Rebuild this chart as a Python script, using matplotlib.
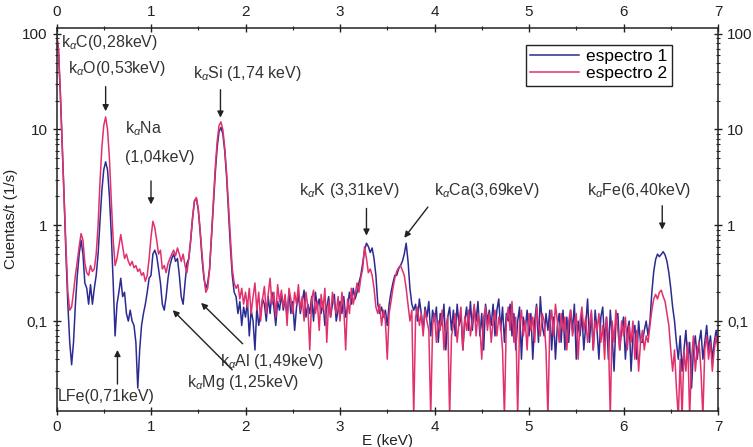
import numpy as np
import matplotlib
matplotlib.use('Agg')
import matplotlib.pyplot as plt
from matplotlib.ticker import FixedLocator, FixedFormatter, LogLocator, NullFormatter

plt.rcParams['font.family'] = ['Liberation Sans', 'DejaVu Sans']
plt.rcParams['mathtext.fontset'] = 'custom'
plt.rcParams['mathtext.rm'] = 'Liberation Sans'
plt.rcParams['mathtext.it'] = 'Liberation Sans:italic'

# channel width (keV); spectra sampled every E_STEP from 0 to 7 keV
E_STEP = 0.02

# espectro 1 (counts/s), one row per 0.2 keV
espectro_1 = [
    100, 70, 25, 7, 2, 0.5, 0.15, 0.06, 0.035, 0.06,
    0.15, 0.3, 0.5, 0.7, 0.5, 0.25, 0.22, 0.15, 0.24, 0.15,
    0.22, 0.3, 0.5, 1.1, 2.3, 3.8, 4.6, 3.8, 2.0, 0.8,
    0.25, 0.07, 0.15, 0.2, 0.28, 0.18, 0.2, 0.12, 0.1, 0.13,
    0.1, 0.09, 0.06, 0.02, 0.05, 0.09, 0.12, 0.15, 0.2, 0.28,
    0.3, 0.5, 0.55, 0.48, 0.35, 0.25, 0.15, 0.13, 0.18, 0.28,
    0.38, 0.45, 0.5, 0.42, 0.45, 0.3, 0.18, 0.15, 0.25, 0.4,
    0.45, 0.7, 1.2, 1.8, 1.9, 1.45, 0.85, 0.45, 0.28, 0.22,
    0.25, 0.35, 0.75, 1.6, 3.5, 6.5, 9.5, 10.5, 9, 6,
    3.2, 1.4, 0.6, 0.3, 0.2, 0.18, 0.12, 0.16, 0.09, 0.14,
    0.11, 0.16, 0.07, 0.13, 0.1, 0.05, 0.14, 0.09, 0.12, 0.17,
    0.15, 0.1, 0.18, 0.12, 0.2, 0.14, 0.09, 0.16, 0.13, 0.19,
    0.13, 0.17, 0.11, 0.2, 0.12, 0.16, 0.08, 0.14, 0.19, 0.12,
    0.16, 0.21, 0.11, 0.15, 0.12, 0.18, 0.1, 0.2, 0.14, 0.17,
    0.12, 0.16, 0.09, 0.14, 0.18, 0.11, 0.15, 0.19, 0.1, 0.13,
    0.16, 0.12, 0.18, 0.11, 0.14, 0.2, 0.15, 0.22, 0.17, 0.2,
    0.25, 0.3, 0.4, 0.55, 0.65, 0.6, 0.52, 0.58, 0.45, 0.3,
    0.15, 0.12, 0.14, 0.11, 0.13, 0.09, 0.15, 0.2, 0.25, 0.3,
    0.3, 0.35, 0.38, 0.42, 0.5, 0.65, 0.42, 0.22, 0.15, 0.13,
    0.15, 0.1, 0.17, 0.12, 0.08, 0.14, 0.11, 0.16, 0.07, 0.13,
    0.1, 0.14, 0.06, 0.12, 0.09, 0.15, 0.05, 0.11, 0.14, 0.08,
    0.13, 0.07, 0.15, 0.09, 0.12, 0.05, 0.1, 0.14, 0.08, 0.16,
    0.08, 0.14, 0.1, 0.16, 0.07, 0.12, 0.05, 0.15, 0.1, 0.13,
    0.09, 0.15, 0.07, 0.13, 0.17, 0.08, 0.14, 0.06, 0.12, 0.1,
    0.15, 0.07, 0.12, 0.05, 0.1, 0.14, 0.04, 0.11, 0.08, 0.13,
    0.07, 0.12, 0.04, 0.1, 0.15, 0.06, 0.18, 0.09, 0.07, 0.12,
    0.08, 0.13, 0.05, 0.11, 0.04, 0.09, 0.12, 0.06, 0.13, 0.05,
    0.11, 0.06, 0.13, 0.08, 0.15, 0.04, 0.1, 0.07, 0.12, 0.05,
    0.09, 0.17, 0.06, 0.12, 0.05, 0.13, 0.08, 0.04, 0.11, 0.14,
    0.06, 0.11, 0.04, 0.13, 0.07, 0.03, 0.1, 0.12, 0.05, 0.08,
    0.11, 0.04, 0.08, 0.1, 0.03, 0.07, 0.09, 0.04, 0.1, 0.06,
    0.06, 0.08, 0.1, 0.07, 0.1, 0.2, 0.33, 0.44, 0.5, 0.47,
    0.5, 0.53, 0.49, 0.42, 0.32, 0.22, 0.14, 0.1, 0.06, 0.04,
    0.07, 0.03, 0.05, 0.08, 0.04, 0.06, 0.02, 0.05, 0.07, 0.04,
    0.06, 0.08, 0.04, 0.06, 0.09, 0.05, 0.07, 0.04, 0.06, 0.08,
    0.06,
]

# espectro 2 (counts/s)
espectro_2 = [
    100, 70, 25, 7, 2, 0.6, 0.2, 0.13, 0.14, 0.2,
    0.3, 0.42, 0.6, 0.82, 0.7, 0.4, 0.32, 0.3, 0.38, 0.33,
    0.35, 0.5, 1.0, 2.8, 6.5, 11, 13.5, 10, 5, 1.8,
    0.7, 0.38, 0.45, 0.6, 0.8, 0.6, 0.45, 0.5, 0.42, 0.38,
    0.42, 0.36, 0.38, 0.33, 0.35, 0.3, 0.32, 0.26, 0.3, 0.45,
    0.75, 1.1, 0.95, 0.7, 0.5, 0.55, 0.35, 0.38, 0.32, 0.4,
    0.45, 0.5, 0.55, 0.48, 0.58, 0.5, 0.42, 0.5, 0.38, 0.32,
    0.45, 0.7, 1.2, 1.8, 1.95, 1.5, 0.9, 0.5, 0.3, 0.2,
    0.22, 0.35, 0.8, 1.8, 4, 7.5, 11, 12, 10, 6.5,
    3.5, 1.6, 0.7, 0.35, 0.25, 0.22, 0.24, 0.17, 0.22, 0.15,
    0.2, 0.14, 0.22, 0.12, 0.18, 0.25, 0.13, 0.2, 0.1, 0.17,
    0.23, 0.12, 0.19, 0.28, 0.15, 0.2, 0.11, 0.24, 0.16, 0.21,
    0.14, 0.19, 0.09, 0.22, 0.17, 0.12, 0.2, 0.15, 0.24, 0.13,
    0.18, 0.1, 0.2, 0.14, 0.05, 0.17, 0.21, 0.12, 0.16, 0.08,
    0.19, 0.13, 0.22, 0.06, 0.16, 0.11, 0.2, 0.15, 0.12, 0.18,
    0.1, 0.2, 0.14, 0.05, 0.17, 0.12, 0.22, 0.15, 0.19, 0.25,
    0.2, 0.28, 0.35, 0.6, 0.45, 0.32, 0.35, 0.3, 0.22, 0.14,
    0.12, 0.15, 0.09, 0.13, 0.1, 0.04, 0.12, 0.16, 0.22, 0.28,
    0.33, 0.36, 0.38, 0.34, 0.3, 0.22, 0.15, 0.1, 0.13, 0.01,
    0.11, 0.14, 0.09, 0.12, 0.07, 0.13, 0.1, 0.08, 0.01, 0.09,
    0.12, 0.06, 0.1, 0.08, 0.13, 0.05, 0.09, 0.11, 0.01, 0.07,
    0.09, 0.12, 0.06, 0.1, 0.14, 0.05, 0.11, 0.08, 0.13, 0.07,
    0.1, 0.15, 0.07, 0.12, 0.09, 0.04, 0.11, 0.14, 0.08, 0.12,
    0.06, 0.1, 0.13, 0.07, 0.11, 0.09, 0.05, 0.01, 0.1, 0.14,
    0.08, 0.16, 0.06, 0.11, 0.01, 0.09, 0.13, 0.07, 0.1, 0.05,
    0.12, 0.08, 0.11, 0.06, 0.14, 0.09, 0.07, 0.12, 0.1, 0.05,
    0.01, 0.09, 0.13, 0.07, 0.15, 0.1, 0.06, 0.12, 0.08, 0.11,
    0.05, 0.1, 0.13, 0.07, 0.09, 0.12, 0.04, 0.1, 0.14, 0.08,
    0.11, 0.06, 0.09, 0.13, 0.05, 0.1, 0.08, 0.12, 0.06, 0.09,
    0.04, 0.11, 0.07, 0.01, 0.1, 0.06, 0.13, 0.08, 0.05, 0.1,
    0.07, 0.11, 0.05, 0.09, 0.06, 0.1, 0.04, 0.08, 0.03, 0.06,
    0.08, 0.05, 0.07, 0.06, 0.09, 0.13, 0.17, 0.19, 0.17, 0.2,
    0.21, 0.18, 0.16, 0.12, 0.09, 0.05, 0.03, 0.05, 0.02, 0.01,
    0.04, 0.01, 0.05, 0.03, 0.06, 0.01, 0.04, 0.07, 0.03, 0.05,
    0.06, 0.03, 0.01, 0.05, 0.07, 0.04, 0.06, 0.03, 0.05, 0.07,
    0.05,
]

energy = np.round(np.arange(len(espectro_1)) * E_STEP, 2)

y_ticks = [0.1, 1, 10, 100]
y_tick_labels = ['0,1', '1', '10', '100']

# (text, text position, arrow tail, arrow head)
LABELS = [
    (r'k$_\alpha$C(0,28keV)', (0.05, 80), None, None),
    (r'k$_\alpha$O(0,53keV)', (0.12, 43), (0.52, 28), (0.52, 15.5)),
    (r'k$_\alpha$Na', (0.72, 10.2), None, None),
    ('(1,04keV)', (0.72, 5.1), (1.0, 2.9), (1.0, 1.65)),
    (r'k$_\alpha$Si (1,74 keV)', (1.44, 38), (1.735, 26), (1.735, 13.3)),
    (r'k$_\alpha$K (3,31keV)', (2.57, 2.3), (3.28, 1.5), (3.28, 0.78)),
    (r'k$_\alpha$Ca(3,69keV)', (3.99, 2.3), (3.93, 1.55), (3.68, 0.74)),
    (r'k$_\alpha$Fe(6,40keV)', (5.61, 2.3), (6.41, 1.6), (6.41, 0.9)),
    (r'k$_\alpha$Al (1,49keV)', (1.73, 0.038), (1.97, 0.058), (1.53, 0.155)),
    (r'k$_\alpha$Mg (1,25keV)', (1.38, 0.023), (1.86, 0.031), (1.23, 0.13)),
    ('LFe(0,71keV)', (0.015, 0.0162), (0.645, 0.022), (0.645, 0.05)),
]

fig = plt.figure(figsize=(7.53, 4.47), dpi=100)
ax = fig.add_axes([56.5 / 753, 36.3 / 447, 661.5 / 753, 383 / 447])

ax.plot(energy, espectro_1, color='#2b2b92', lw=1.1, label='espectro 1')
ax.plot(energy, espectro_2, color='#e2306c', lw=1.1, label='espectro 2')

ax.set_yscale('log')
ax.set_xlim(0, 7)
ax.set_ylim(0.0116, 115.5)

ax.xaxis.set_major_locator(FixedLocator(range(8)))
ax.xaxis.set_minor_locator(FixedLocator([0.5, 1.5, 2.5, 3.5, 4.5, 5.5, 6.5]))
ax.yaxis.set_major_locator(FixedLocator(y_ticks))
ax.yaxis.set_major_formatter(FixedFormatter(y_tick_labels))
ax.yaxis.set_minor_locator(LogLocator(base=10, subs=np.arange(2, 10)))
ax.yaxis.set_minor_formatter(NullFormatter())

ax.tick_params(which='both', top=True, right=True, labeltop=True,
               labelright=True, direction='inout', colors='#222222',
               labelsize=11)
ax.tick_params(which='major', length=6, width=1)
ax.tick_params(which='minor', length=3, width=0.8)
for s in ax.spines.values():
    s.set_linewidth(1.1)
    s.set_color('#222222')

ax.set_xlabel('E (keV)', fontsize=11, labelpad=0, color='#222222')
ax.set_ylabel('Cuentas/t (1/s)', fontsize=11, labelpad=3, color='#222222')

for text, pos, tail, head in LABELS:
    ax.text(pos[0], pos[1], text, fontsize=11.5, color='#333333',
            va='center', ha='left')
    if tail is not None:
        ax.annotate('', xy=head, xytext=tail,
                    arrowprops=dict(arrowstyle='-|>', color='#222222',
                                    lw=1.0, mutation_scale=9,
                                    shrinkA=0, shrinkB=0))

leg = ax.legend(loc='upper right', bbox_to_anchor=(0.943, 0.978),
                fontsize=12.5, fancybox=False, framealpha=1,
                edgecolor='#222222', handlelength=2.8, borderpad=0.25,
                labelspacing=0.1, handletextpad=0.4)
leg.get_frame().set_linewidth(1.0)

fig.savefig('out.png', dpi=100)
